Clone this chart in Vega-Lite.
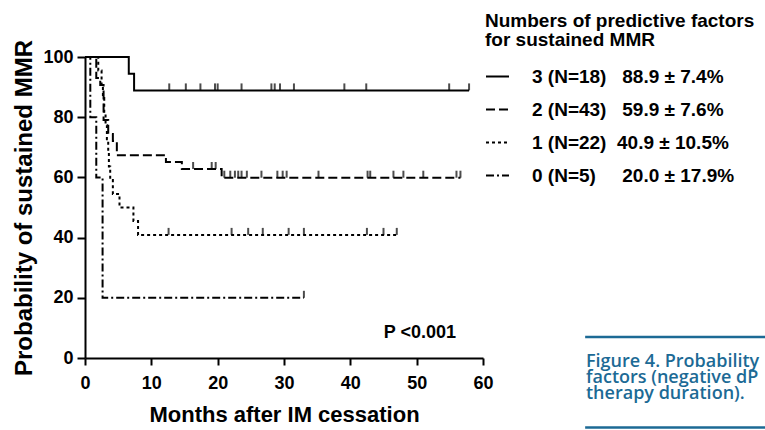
{
  "$schema": "https://vega.github.io/schema/vega-lite/v6.json",
  "width": 398,
  "height": 301,
  "autosize": {"type": "none"},
  "padding": {"left": 85, "top": 57, "right": 282, "bottom": 72},
  "background": "white",
  "config": {
    "view": {"stroke": null},
    "font": "Liberation Sans",
    "axis": {
      "domainColor": "black", "domainWidth": 2, "tickColor": "black", "tickWidth": 2,
      "labelFont": "Liberation Sans", "labelFontWeight": "bold", "labelFontSize": 18, "labelColor": "black",
      "titleFont": "Liberation Sans", "titleFontWeight": "bold", "titleColor": "black", "grid": false
    },
    "axisX": {"tickSize": 7, "labelPadding": 9, "titleFontSize": 22, "titlePadding": 12, "labelFlush": false},
    "axisY": {"tickSize": 8, "labelPadding": 4, "titleFontSize": 24, "titlePadding": 6}
  },
  "title": {
    "text": ["Figure 4. Probability", "factors (negative dP", "therapy duration)."],
    "orient": "bottom", "anchor": "start", "frame": "group", "align": "left",
    "dx": 501, "dy": -80, "font": "Open Sans", "fontSize": 18, "fontWeight": 600,
    "color": "#1c6a95", "lineHeight": 16
  },
  "datasets": {
    "curves": [
      {"g": "3", "t": 0, "s": 100}, {"g": "3", "t": 6.6, "s": 94.4}, {"g": "3", "t": 7.4, "s": 88.9}, {"g": "3", "t": 57.9, "s": 88.9},
      {"g": "2", "t": 0, "s": 100}, {"g": "2", "t": 1.7, "s": 93.0}, {"g": "2", "t": 2.3, "s": 90.7}, {"g": "2", "t": 2.8, "s": 79.1},
      {"g": "2", "t": 3.5, "s": 74.4}, {"g": "2", "t": 4.2, "s": 72.1}, {"g": "2", "t": 4.8, "s": 67.4}, {"g": "2", "t": 12.2, "s": 65.1},
      {"g": "2", "t": 14.6, "s": 62.8}, {"g": "2", "t": 20.6, "s": 59.9}, {"g": "2", "t": 56.6, "s": 59.9},
      {"g": "1", "t": 0, "s": 100}, {"g": "1", "t": 2.0, "s": 95.5}, {"g": "1", "t": 2.5, "s": 90.9}, {"g": "1", "t": 2.7, "s": 86.4},
      {"g": "1", "t": 2.9, "s": 81.8}, {"g": "1", "t": 3.1, "s": 77.3}, {"g": "1", "t": 3.3, "s": 72.7}, {"g": "1", "t": 3.5, "s": 68.2},
      {"g": "1", "t": 3.6, "s": 63.6}, {"g": "1", "t": 3.8, "s": 59.1}, {"g": "1", "t": 4.2, "s": 54.5}, {"g": "1", "t": 5.2, "s": 50.0},
      {"g": "1", "t": 7.3, "s": 45.5}, {"g": "1", "t": 8.0, "s": 40.9}, {"g": "1", "t": 47.0, "s": 40.9},
      {"g": "0", "t": 0, "s": 100}, {"g": "0", "t": 0.8, "s": 80}, {"g": "0", "t": 1.7, "s": 60}, {"g": "0", "t": 2.65, "s": 20}, {"g": "0", "t": 33.0, "s": 20}
    ],
    "censors": [
      {"g": "3", "t": 12.7, "s": 88.9}, {"g": "3", "t": 15.2, "s": 88.9}, {"g": "3", "t": 17.4, "s": 88.9}, {"g": "3", "t": 19.6, "s": 88.9},
      {"g": "3", "t": 20.0, "s": 88.9}, {"g": "3", "t": 23.6, "s": 88.9}, {"g": "3", "t": 28.1, "s": 88.9}, {"g": "3", "t": 28.6, "s": 88.9},
      {"g": "3", "t": 29.4, "s": 88.9}, {"g": "3", "t": 31.5, "s": 88.9}, {"g": "3", "t": 39.1, "s": 88.9}, {"g": "3", "t": 42.4, "s": 88.9},
      {"g": "3", "t": 54.9, "s": 88.9}, {"g": "3", "t": 57.9, "s": 88.9},
      {"g": "2", "t": 16.3, "s": 62.8}, {"g": "2", "t": 19.1, "s": 62.8}, {"g": "2", "t": 19.7, "s": 62.8},
      {"g": "2", "t": 21.0, "s": 59.9}, {"g": "2", "t": 21.9, "s": 59.9}, {"g": "2", "t": 22.6, "s": 59.9}, {"g": "2", "t": 23.1, "s": 59.9},
      {"g": "2", "t": 23.6, "s": 59.9}, {"g": "2", "t": 24.4, "s": 59.9}, {"g": "2", "t": 26.6, "s": 59.9}, {"g": "2", "t": 29.0, "s": 59.9},
      {"g": "2", "t": 29.8, "s": 59.9}, {"g": "2", "t": 30.4, "s": 59.9}, {"g": "2", "t": 35.2, "s": 59.9}, {"g": "2", "t": 42.6, "s": 59.9},
      {"g": "2", "t": 43.0, "s": 59.9}, {"g": "2", "t": 46.5, "s": 59.9}, {"g": "2", "t": 48.0, "s": 59.9}, {"g": "2", "t": 51.0, "s": 59.9},
      {"g": "2", "t": 56.0, "s": 59.9}, {"g": "2", "t": 56.6, "s": 59.9},
      {"g": "1", "t": 12.6, "s": 40.9}, {"g": "1", "t": 22.1, "s": 40.9}, {"g": "1", "t": 24.6, "s": 40.9}, {"g": "1", "t": 26.8, "s": 40.9},
      {"g": "1", "t": 30.7, "s": 40.9}, {"g": "1", "t": 33.0, "s": 40.9}, {"g": "1", "t": 42.5, "s": 40.9}, {"g": "1", "t": 45.0, "s": 40.9},
      {"g": "1", "t": 47.0, "s": 40.9},
      {"g": "0", "t": 33.0, "s": 20}
    ]
  },
  "layer": [
    {
      "data": {"name": "curves"},
      "mark": {"type": "line", "interpolate": "step-after", "color": "black", "strokeWidth": 2, "strokeCap": "butt"},
      "encoding": {
        "x": {"field": "t", "type": "quantitative", "scale": {"domain": [0, 60], "nice": false}, "title": "Months after IM cessation", "axis": {"values": [0, 10, 20, 30, 40, 50, 60]}},
        "y": {"field": "s", "type": "quantitative", "scale": {"domain": [0, 100], "nice": false}, "title": "Probability of sustained MMR", "axis": {"values": [0, 20, 40, 60, 80, 100]}},
        "strokeDash": {
          "field": "g", "type": "nominal",
          "scale": {"domain": ["3", "2", "1", "0"], "range": [[1, 0], [9, 4], [3, 3], [8, 3, 2, 3]]},
          "legend": {
            "title": ["Numbers of predictive factors", "for sustained MMR"],
            "orient": "none", "legendX": 400, "legendY": -45, "padding": 0,
            "labelExpr": "{'3': '3 (N=18)\u00a0\u00a0\u00a088.9 \u00b1 7.4%', '2': '2 (N=43)\u00a0\u00a0\u00a059.9 \u00b1 7.6%', '1': '1 (N=22)\u00a0\u00a040.9 \u00b1 10.5%', '0': '0 (N=5)\u00a0\u00a0\u00a0\u00a0\u00a020.0 \u00b1 17.9%'}[datum.label]",
            "symbolType": "stroke", "symbolSize": 529, "symbolStrokeWidth": 2, "symbolStrokeColor": "black",
            "labelFont": "Liberation Sans", "labelFontSize": 19, "labelFontWeight": "bold", "labelColor": "black", "labelLimit": 400, "labelOffset": 22,
            "titleFont": "Liberation Sans", "titleFontSize": 19, "titleFontWeight": "bold", "titleColor": "black", "titleLineHeight": 19, "titlePadding": 14, "titleLimit": 400,
            "rowPadding": 10
          }
        }
      }
    },
    {
      "data": {"name": "censors"},
      "mark": {"type": "tick", "orient": "vertical", "color": "black", "size": 7, "thickness": 2, "yOffset": -3.5},
      "encoding": {
        "x": {"field": "t", "type": "quantitative", "scale": {"domain": [0, 60], "nice": false}, "title": "Months after IM cessation"},
        "y": {"field": "s", "type": "quantitative", "scale": {"domain": [0, 100], "nice": false}, "title": "Probability of sustained MMR"}
      }
    },
    {
      "data": {"values": [{"label": "P <0.001"}]},
      "mark": {"type": "text", "font": "Liberation Sans", "fontWeight": "bold", "fontSize": 18, "color": "black", "align": "center", "baseline": "alphabetic"},
      "encoding": {
        "x": {"datum": 50.5, "type": "quantitative", "title": "Months after IM cessation"},
        "y": {"datum": 6.6, "type": "quantitative", "title": "Probability of sustained MMR"},
        "text": {"field": "label"}
      }
    },
    {
      "data": {"values": [{}]},
      "mark": {"type": "rule", "color": "#1c6a95", "strokeWidth": 2.5},
      "encoding": {
        "x": {"datum": 75.4, "type": "quantitative", "title": "Months after IM cessation"},
        "x2": {"datum": 102.6},
        "y": {"datum": 7.0, "type": "quantitative", "title": "Probability of sustained MMR"}
      }
    },
    {
      "data": {"values": [{}]},
      "mark": {"type": "rule", "color": "#1c6a95", "strokeWidth": 2.5},
      "encoding": {
        "x": {"datum": 75.4, "type": "quantitative", "title": "Months after IM cessation"},
        "x2": {"datum": 102.6},
        "y": {"datum": -23.1, "type": "quantitative", "title": "Probability of sustained MMR"}
      }
    }
  ]
}
